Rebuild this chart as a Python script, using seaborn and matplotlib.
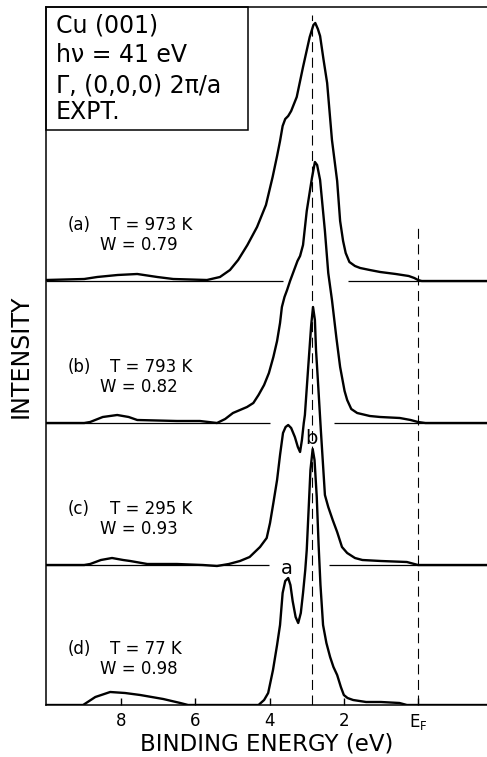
import numpy as np
import pandas as pd
import matplotlib
matplotlib.use('Agg')
import matplotlib.pyplot as plt
import matplotlib.patches as patches
import seaborn as sns

# binding energy (eV) and photoemission intensity (arb. units)
be_a = [10.03, 9.0, 8.65, 8.1, 7.57, 7.03, 6.6, 5.69, 5.34, 5.07, 4.85, 4.6, 4.34, 4.1,
        3.92, 3.8, 3.72, 3.65, 3.58, 3.5, 3.42, 3.27, 3.1, 2.92, 2.82, 2.77, 2.7, 2.64,
        2.55, 2.45, 2.32, 2.18, 2.1, 2.02, 1.95, 1.85, 1.7, 1.56, 1.3, 1.02, 0.6, 0.25,
        0.1, 0.0, -0.1, -1.86]
int_a = [1, 2, 4, 6, 7, 4, 2, 1, 4, 11, 21, 36, 54, 76,
         104, 125, 140, 155, 162, 165, 170, 184, 214, 244, 256, 258, 252, 245,
         222, 198, 141, 100, 60, 40, 28, 19, 15, 13, 11, 9, 7, 5,
         3, 1, 0, 0]

be_b = [10.03, 9.0, 8.84, 8.5, 8.11, 7.8, 7.57, 6.5, 5.88, 5.42, 5.2, 4.99, 4.8, 4.61,
        4.44, 4.3, 4.15, 4.02, 3.9, 3.8, 3.72, 3.67, 3.6, 3.53, 3.45, 3.37, 3.25, 3.18,
        3.1, 3.0, 2.86, 2.78, 2.72, 2.64, 2.51, 2.42, 2.32, 2.2, 2.1, 1.98, 1.91, 1.8,
        1.64, 1.3, 1.02, 0.49, 0.2, 0.0, -0.2, -1.86]
int_b = [0, 0, 1, 6, 8, 6, 3, 2, 2, 0, 4, 10, 13, 16,
         20, 28, 38, 50, 66, 82, 100, 116, 126, 133, 142, 150, 162, 167,
         178, 212, 245, 261, 258, 243, 192, 150, 123, 85, 56, 32, 23, 14,
         10, 7, 6, 5, 3, 1, 0, 0]

be_c = [10.03, 9.0, 8.84, 8.55, 8.25, 7.95, 7.76, 7.3, 6.5, 5.8, 5.42, 5.1, 4.8, 4.54,
        4.26, 4.08, 3.99, 3.9, 3.8, 3.72, 3.64, 3.57, 3.5, 3.42, 3.32, 3.24, 3.18, 3.13,
        3.08, 3.05, 2.96, 2.88, 2.83, 2.78, 2.75, 2.7, 2.62, 2.51, 2.42, 2.3, 2.18, 2.05,
        1.91, 1.7, 1.5, 1.0, 0.3, 0.1, 0.0, -1.86]
int_c = [0, 0, 1, 5, 7, 5, 4, 1, 1, 0, -1, 1, 4, 8,
         18, 27, 42, 62, 85, 110, 132, 138, 140, 137, 128, 118, 113, 125,
         142, 150, 198, 240, 258, 245, 215, 185, 135, 70, 58, 45, 33, 18,
         12, 7, 5, 4, 3, 1, 0, 0]

be_d = [10.03, 9.03, 8.7, 8.3, 7.9, 7.49, 6.87, 6.41, 6.2, 4.3, 4.15, 4.04, 3.91, 3.8,
        3.72, 3.65, 3.58, 3.5, 3.44, 3.38, 3.3, 3.23, 3.16, 3.1, 3.04, 3.0, 2.95, 2.9,
        2.84, 2.79, 2.73, 2.68, 2.63, 2.56, 2.47, 2.37, 2.28, 2.18, 2.08, 2.0, 1.9, 1.75,
        1.4, 1.0, 0.5, 0.3, -1.86]
int_d = [0, 0, 8, 13, 12, 10, 6, 2, 0, 0, 5, 12, 35, 60,
         80, 112, 124, 127, 120, 104, 88, 82, 92, 112, 135, 155, 195, 235,
         256, 245, 208, 160, 120, 80, 62, 48, 38, 30, 18, 10, 7, 5,
         3, 3, 2, 0, 0]

samples = ['(a)', '(b)', '(c)', '(d)']
temps = ['T = 973 K', 'T = 793 K', 'T = 295 K', 'T = 77 K']
weights = ['W = 0.79', 'W = 0.82', 'W = 0.93', 'W = 0.98']
offsets = [424, 282, 140, 0]
# baselines are broken where the spectrum below passes through
gap_lo = [1.89, 2.26, 2.40]
gap_hi = [3.64, 3.99, 4.02]

peak_be = 2.85
ef_be = 0.0
xticks = [8, 6, 4, 2, 0]
xticklabels = ['8', '6', '4', '2', r'E$_\mathrm{F}$']
box_lines = ['Cu (001)', 'h\u03bd = 41 eV', '\u0393, (0,0,0) 2\u03c0/a', 'EXPT.']

frames = []
for name, be, inten, off in zip(samples, [be_a, be_b, be_c, be_d],
                                [int_a, int_b, int_c, int_d], offsets):
    frames.append(pd.DataFrame({'be': be, 'y': np.array(inten) + off, 'sample': name}))
df = pd.concat(frames, ignore_index=True)

sns.set_style('ticks')
plt.rcParams['font.family'] = ['DejaVu Sans']
plt.rcParams['text.color'] = 'black'
plt.rcParams['axes.labelcolor'] = 'black'
plt.rcParams['xtick.color'] = 'black'
plt.rcParams['axes.edgecolor'] = 'black'

fig = plt.figure(figsize=(4.87, 7.57), dpi=100)
ax = fig.add_axes([46 / 487, 52 / 757, 441 / 487, 698 / 757])

sns.lineplot(data=df, x='be', y='y', hue='sample', palette=['black'] * 4,
             estimator=None, sort=False, legend=False, lw=1.7, ax=ax)

xl, xr = 10.03, -1.86
ax.set_xlim(xl, xr)
ax.set_ylim(0, 698)

for off, lo, hi in zip(offsets[:3], gap_lo, gap_hi):
    ax.hlines(off, xl, hi, color='black', lw=0.9)
    ax.hlines(off, lo, xr, color='black', lw=0.9)

ax.vlines(peak_be, 0, 690, color='black', lw=0.8, linestyles=(0, (9, 5)))
ax.vlines(ef_be, 0, 482, color='black', lw=0.8, linestyles=(0, (9, 5)))

for s, t, w, off in zip(samples, temps, weights, offsets):
    ax.text(9.46, off + 56, s, va='center', ha='left', fontsize=12)
    ax.text(8.30, off + 56, t, va='center', ha='left', fontsize=12)
    ax.text(8.57, off + 36, w, va='center', ha='left', fontsize=12)

ax.text(3.53, 137, 'a', ha='center', va='center', fontsize=14)
ax.text(2.86, 267, 'b', ha='center', va='center', fontsize=14)

box_y = [0.973, 0.931, 0.888, 0.850]
for line, yy in zip(box_lines, box_y):
    ax.text(0.022, yy, line, transform=ax.transAxes, va='center', ha='left', fontsize=17)
ax.add_patch(patches.Rectangle((0, 0.824), 0.458, 0.176, transform=ax.transAxes,
                               fill=False, lw=1.1, color='black', clip_on=False))

ax.set_xticks(xticks, xticklabels)
ax.set_yticks([])
ax.tick_params(axis='x', direction='in', length=5, width=1, labelsize=12, pad=5)
ax.spines['right'].set_visible(False)
for sp in ['left', 'top', 'bottom']:
    ax.spines[sp].set_linewidth(1.1)

ax.set_xlabel('BINDING ENERGY (eV)', fontsize=16.5)
ax.xaxis.set_label_coords(0.5, -0.039)
ax.set_ylabel('INTENSITY', fontsize=17)
ax.yaxis.set_label_coords(-0.03, 0.5)

fig.savefig('out.png', dpi=100)
